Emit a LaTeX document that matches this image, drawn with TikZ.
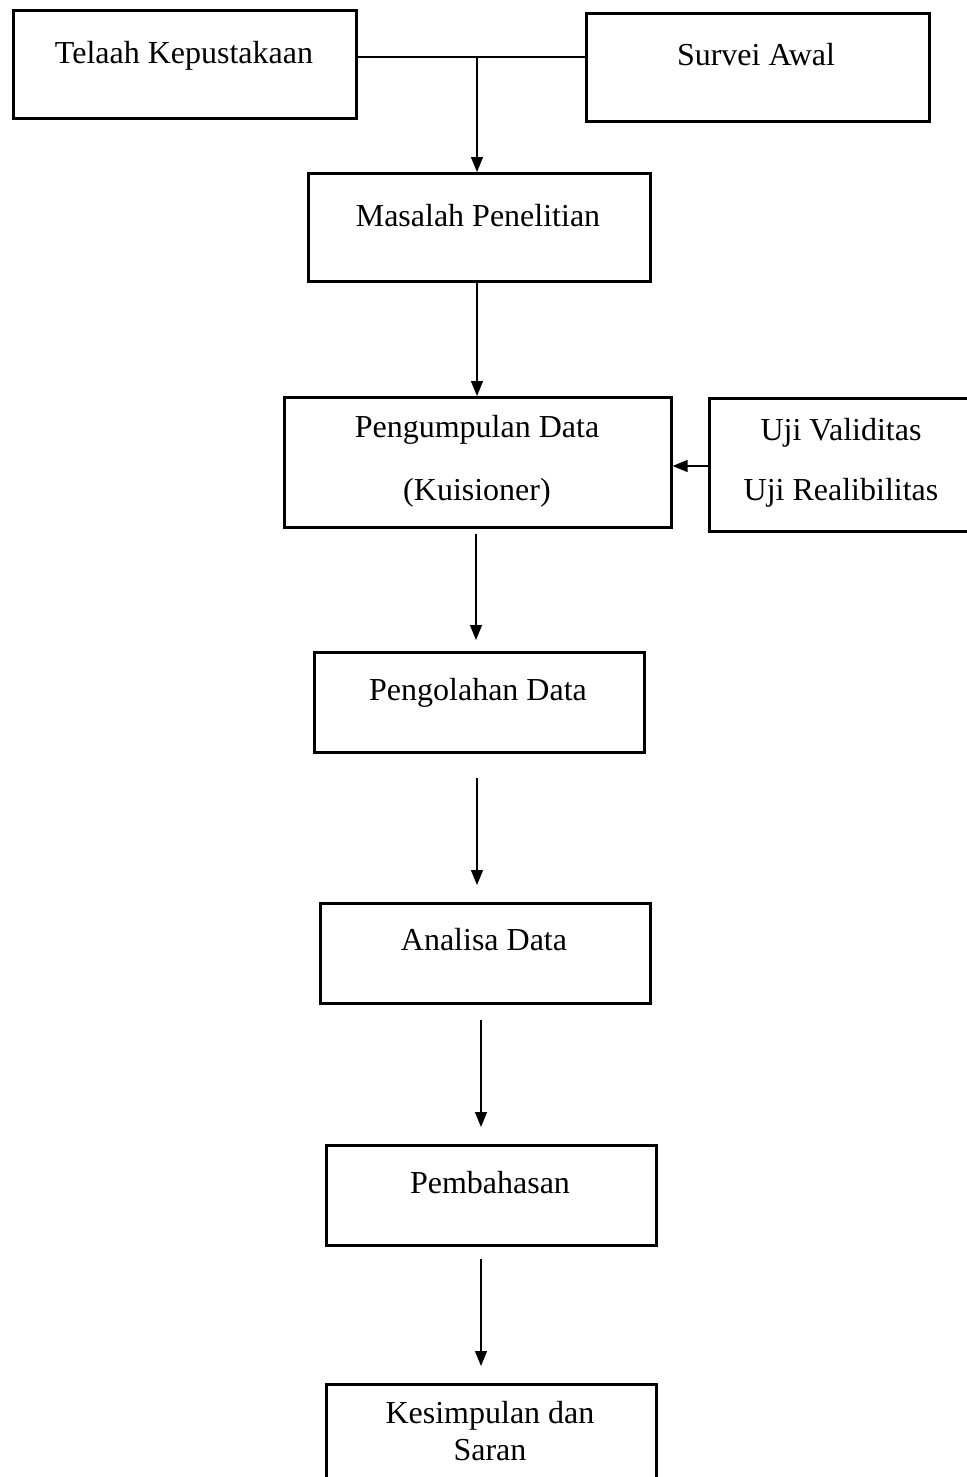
\documentclass[tikz,border=0pt]{standalone}
\usepackage{fontspec}
\setmainfont{Liberation Serif}
\usetikzlibrary{arrows.meta}
\begin{document}
\begin{tikzpicture}[x=1pt,y=-1pt,
  box/.style={draw, line width=2.6pt, anchor=north west, inner sep=0pt},
  txt/.style={anchor=base, inner sep=0pt, font=\fontsize{32}{38}\selectfont},
  conn/.style={line width=1.3pt},
  arr/.style={line width=1.3pt, -{Triangle[length=15pt,width=12pt]}}]
\useasboundingbox (0,0) rectangle (966,1477);
% boxes
\node[box, minimum width=343pt, minimum height=108pt] (tk) at (12,9) {};
\node[box, minimum width=343pt, minimum height=108pt] (sa) at (585,12) {};
\node[box, minimum width=342pt, minimum height=108pt] (mp) at (307,172) {};
\node[box, minimum width=387pt, minimum height=130pt] (pd) at (283,396) {};
\node[box, minimum width=280pt, minimum height=133pt] (uji) at (708,397) {};
\node[box, minimum width=330pt, minimum height=100pt] (po) at (313,651) {};
\node[box, minimum width=330pt, minimum height=100pt] (ad) at (319,902) {};
\node[box, minimum width=330pt, minimum height=100pt] (pb) at (325,1144) {};
\node[box, minimum width=330pt, minimum height=120pt] (ks) at (325,1383) {};
% texts
\node[txt] (ttk) at (184,64) {Telaah Kepustakaan};
\node[txt] (tsa) at (756,66) {Survei Awal};
\node[txt] (tmp) at (478,226) {Masalah Penelitian};
\node[txt] (tpd1) at (477,437) {Pengumpulan Data};
\node[txt] (tpd2) at (477,500) {(Kuisioner)};
\node[txt] (tuji1) at (841,440) {Uji Validitas};
\node[txt] (tuji2) at (841,500) {Uji Realibilitas};
\node[txt] (tpo) at (478,700) {Pengolahan Data};
\node[txt] (tad) at (484,950) {Analisa Data};
\node[txt] (tpb) at (490,1193) {Pembahasan};
\node[txt] (tks1) at (490,1423) {Kesimpulan dan};
\node[txt] (tks2) at (490,1460) {Saran};
% connectors
\coordinate (j) at (477,57);
\draw[conn] (tk.east |- j) -- (sa.west |- j);
\draw[arr] (j) -- (mp.north -| j);
\draw[arr] (mp.south -| j) -- (pd.north -| j);
\draw[arr] (uji.west |- 0,466) -- (pd.east |- 0,466);
\draw[arr, shorten <=5pt, shorten >=11pt] (pd.south -| 476,0) -- (po.north -| 476,0);
\draw[arr, shorten <=24pt, shorten >=17pt] (po.south -| 477,0) -- (ad.north -| 477,0);
\draw[arr, shorten <=15pt, shorten >=17pt] (ad.south -| 481,0) -- (pb.north -| 481,0);
\draw[arr, shorten <=12pt, shorten >=17pt] (pb.south -| 481,0) -- (ks.north -| 481,0);
\end{tikzpicture}
\end{document}
